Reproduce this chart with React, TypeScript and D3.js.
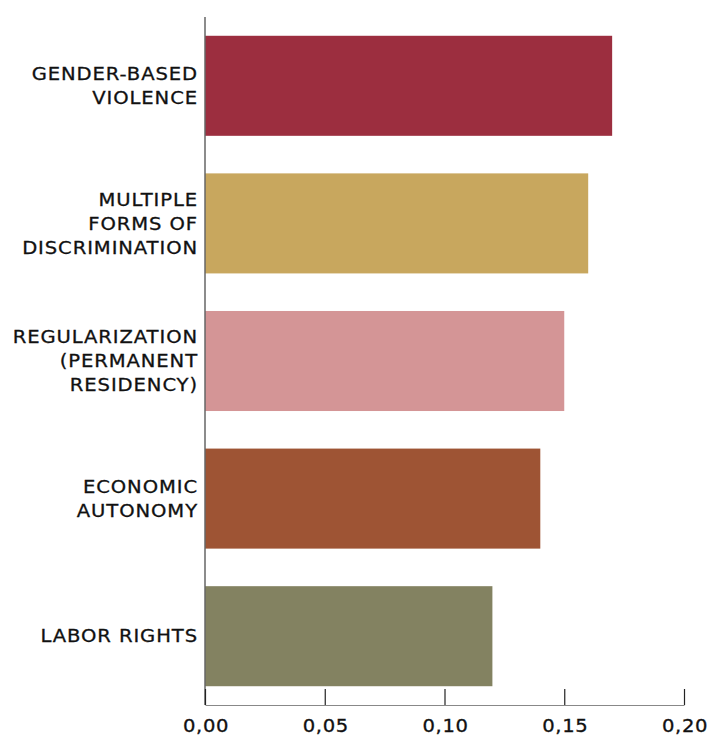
import React, { useRef, useEffect } from "react";
import * as d3 from "d3";

const categories: string[][] = [
  ["GENDER-BASED", "VIOLENCE"],
  ["MULTIPLE", "FORMS OF", "DISCRIMINATION"],
  ["REGULARIZATION", "(PERMANENT", "RESIDENCY)"],
  ["ECONOMIC", "AUTONOMY"],
  ["LABOR RIGHTS"],
];
const values: number[] = [0.17, 0.16, 0.15, 0.14, 0.12];
const colors: string[] = ["#9c2e3f", "#c8a75e", "#d49596", "#9e5434", "#838261"];
const tickValues: number[] = [0, 0.05, 0.1, 0.15, 0.2];

const App: React.FC = () => {
  const svgRef = useRef<SVGSVGElement | null>(null);

  useEffect(() => {
    const svg = d3.select(svgRef.current);
    const width = 709;
    const height = 735;
    const margin = { top: 17, right: 25, bottom: 30, left: 205 };
    const font = "'DejaVu Sans', sans-serif";
    const stretch = 1.12; // widen glyphs to mimic the geometric font

    svg.selectAll("*").remove();

    const ids = categories.map((_, i) => i.toString());

    const x = d3
      .scaleLinear()
      .domain([0, 0.2])
      .range([margin.left, width - margin.right]);

    const y = d3
      .scaleBand()
      .domain(ids)
      .range([margin.top, height - margin.bottom])
      .paddingInner(0.273)
      .paddingOuter(0.1365);

    // bars
    svg
      .append("g")
      .selectAll("rect")
      .data(values)
      .join("rect")
      .attr("x", x(0))
      .attr("y", (_, i) => y(ids[i]) ?? 0)
      .attr("width", (d) => x(d) - x(0))
      .attr("height", y.bandwidth())
      .attr("fill", (_, i) => colors[i]);

    // left axis line
    svg
      .append("line")
      .attr("x1", x(0))
      .attr("x2", x(0))
      .attr("y1", margin.top)
      .attr("y2", height - margin.bottom)
      .attr("stroke", "#666")
      .attr("stroke-width", 1.5);

    // category labels
    const lineH = 24;
    const labels = svg
      .append("g")
      .selectAll("text")
      .data(categories)
      .join("text")
      .attr("text-anchor", "end")
      .attr("font-family", font)
      .attr("font-size", 17.5)
      .attr("fill", "#111")
      .attr("stroke", "#111")
      .attr("stroke-width", 0.3)
      .attr("letter-spacing", 0.8)
      .attr("transform", (d, i) => {
        const cy = (y(ids[i]) ?? 0) + y.bandwidth() / 2;
        const top = cy - ((d.length - 1) * lineH) / 2;
        return `translate(${margin.left - 7},${top}) scale(${stretch},1)`;
      });
    labels
      .selectAll("tspan")
      .data((d) => d)
      .join("tspan")
      .attr("x", 0)
      .attr("y", (_, j) => j * lineH)
      .attr("dy", "0.35em")
      .text((d) => d);

    // bottom axis
    const axisY = height - margin.bottom;
    const axis = svg
      .append("g")
      .attr("transform", `translate(0,${axisY})`)
      .call(
        d3
          .axisTop(x)
          .tickValues(tickValues)
          .tickSize(16)
          .tickSizeOuter(0)
          .tickFormat((d) => d3.format(".2f")(d as number).replace(".", ","))
      );
    axis.selectAll("line").attr("stroke", "#222").attr("stroke-width", 1.2);
    axis.select(".domain").attr("stroke", "#888").attr("stroke-width", 1.2);
    axis
      .selectAll("text")
      .attr("y", 21)
      .attr("dy", "0.35em")
      .attr("dx", 0.5)
      .attr("transform", `scale(${stretch},1)`)
      .attr("font-family", font)
      .attr("font-size", 17.5)
      .attr("letter-spacing", 0.6)
      .attr("stroke", "#111")
      .attr("stroke-width", 0.3)
      .attr("fill", "#111");
  }, []);

  return (
    <div>
      <svg
        ref={svgRef}
        width="709"
        height="735"
        style={{ position: "absolute", left: 0, top: 0 }}
      />
    </div>
  );
};

export default App;
